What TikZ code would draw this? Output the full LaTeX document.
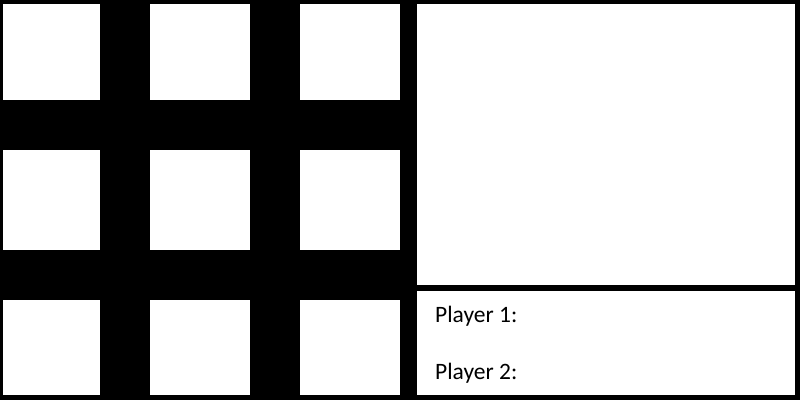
\documentclass[tikz,border=0pt]{standalone}
\usepackage{fontspec}
\setmainfont{Carlito}
\begin{document}
\begin{tikzpicture}[x=1pt,y=-1pt,
  cell/.style={fill=white,draw=none},
  label/.style={anchor=base west,inner sep=0pt,font=\fontsize{23.5}{26}\selectfont}]
\fill[black] (0,0) rectangle (800,400);
\useasboundingbox (0,0) rectangle (800,400);
\path[cell] (3,4) rectangle (100,100) coordinate (c11);
\path[cell] (150,4) rectangle (250,100) coordinate (c12);
\path[cell] (300,4) rectangle (400,100) coordinate (c13);
\path[cell] (3,150) rectangle (100,250) coordinate (c21);
\path[cell] (150,150) rectangle (250,250) coordinate (c22);
\path[cell] (300,150) rectangle (400,250) coordinate (c23);
\path[cell] (3,300) rectangle (100,395) coordinate (c31);
\path[cell] (150,300) rectangle (250,395) coordinate (c32);
\path[cell] (300,300) rectangle (400,395) coordinate (c33);
\path[cell] (417,4) rectangle (795,285) coordinate (panel);
\path[cell] (417,291) rectangle (795,395) coordinate (scores);
\node[label] (p1) at (435,322) {Player 1:};
\node[label] (p2) at (435,379) {Player 2:};
\end{tikzpicture}
\end{document}
